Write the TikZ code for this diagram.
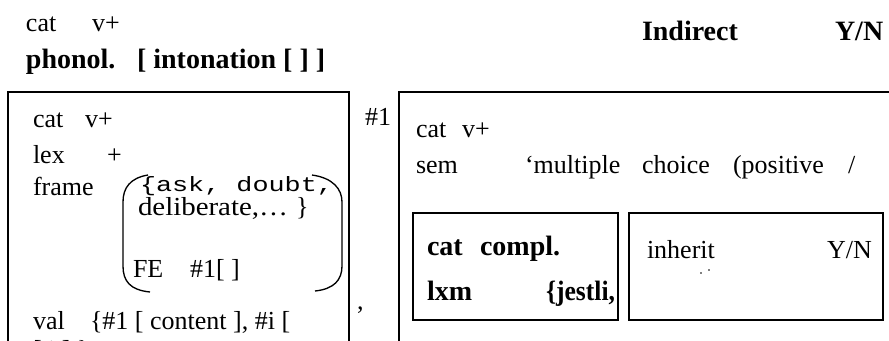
\documentclass[tikz,border=0pt]{standalone}
\usepackage{fontspec}
\setmainfont{Liberation Serif}
\setmonofont{Liberation Mono}
\newlength{\pxu}
\setlength{\pxu}{0.75pt}
\newcommand{\fitw}[2]{\resizebox{#1\pxu}{\height}{#2}}
\begin{document}
\begin{tikzpicture}[x=0.75pt,y=-0.75pt,
  t/.style={anchor=base west,inner sep=0pt,outer sep=0pt,font=\fontsize{19.5}{23}\selectfont},
  tb/.style={t,font=\fontsize{21}{25}\selectfont\bfseries},
  tm/.style={t,font=\fontsize{15.5}{19}\selectfont\ttfamily},
  boxline/.style={line width=1pt},
  paren/.style={line width=1pt}]
\useasboundingbox (0,0) rectangle (889,340);
\clip (0,0) rectangle (889,340);
% top
\node[t] (c0) at (26,31) {cat};
\node[t] (v0) at (92,31) {v+};
\node[tb] (ph) at (26,68) {phonol.};
\node[tb] (into) at (137,68) {[ intonation [ ] ]};
\node[tb] (ind) at (642,40) {Indirect};
\node[tb] (yn0) at (835,40) {Y/N};
% left box
\draw[boxline] (8,350) -- (8,92) -- (349,92) -- (349,350);
\node[t] (c1) at (33,127) {cat};
\node[t] (v1) at (85,127) {v+};
\node[t] (lex) at (33,163) {lex};
\node[t] (plus) at (107,163) {+};
\node[t] (frame) at (33,195) {frame};
\node[tm] (ask) at (140,191) {\fitw{193}{\{ask, doubt,}};
\node[t] (delib) at (138,215) {\fitw{150}{deliberate,…}};
\node[t] (rbr) at (296,215) {\}};
\node[t] (fe) at (133,277) {FE};
\node[t] (fe1) at (190,277) {\#1[ ]};
\draw[paren] (148,175) .. controls (130,178) and (123,188) .. (123,202) -- (123,266) .. controls (123,281) and (130,290) .. (150,292);
\draw[paren] (312,175) .. controls (333,178) and (342,189) .. (342,202) -- (342,266) .. controls (342,280) and (334,289) .. (315,291);
\node[t] (val) at (33,329) {val};
\node[t] (valc) at (90,329) {\{\#1 [ content ], \#i [};
\node[t] (valn) at (33,358) {[ i ] \}};
\node[t] (comma) at (357,309) {,};
\node[t] (h1) at (365,125) {\#1};
% right box
\draw[boxline] (399,350) -- (399,92) -- (895,92);
\node[t] (c2) at (416,137) {cat};
\node[t] (v2) at (462,137) {v+};
\node[t] (sem) at (416,173) {sem};
\node[t] (mult) at (525,173) {‘multiple};
\node[t] (cho) at (642,173) {choice};
\node[t] (pos) at (733,173) {(positive};
\node[t] (sl) at (848,173) {/};
% inner boxes
\draw[boxline] (413,213) rectangle (618,320);
\node[tb] (c3) at (427,255) {cat};
\node[tb] (compl) at (480,255) {compl.};
\node[tb] (lxm) at (427,300) {lxm};
\node[tb] (jest) at (546,300) {\fitw{69}{\{jestli,}};
\draw[boxline] (629,213) rectangle (883,320);
\node[t] (inh) at (647,258) {inherit};
\node[t] (yn1) at (827,258) {Y/N};
\fill (701,273) circle (0.8);
\fill (709,270) circle (0.8);
\end{tikzpicture}
\end{document}
